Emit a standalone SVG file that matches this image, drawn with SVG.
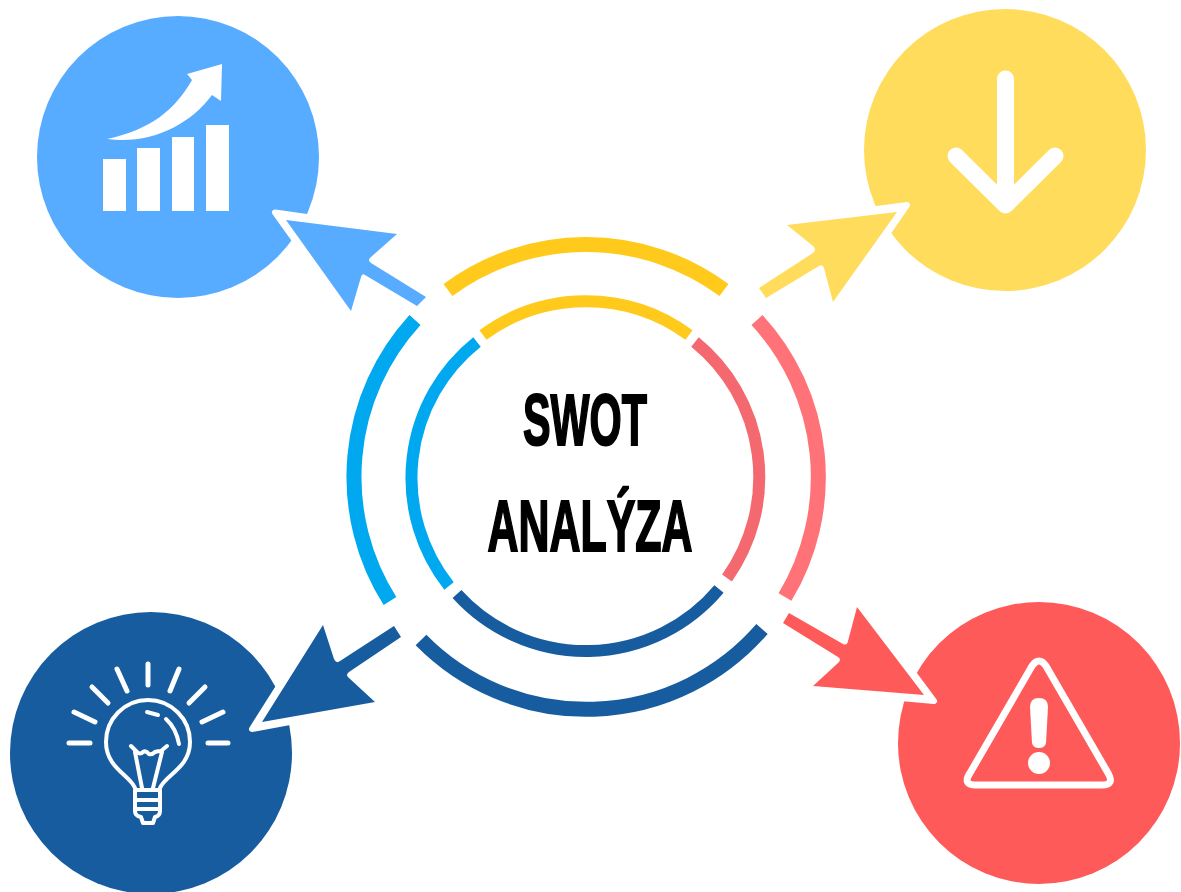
<svg xmlns="http://www.w3.org/2000/svg" width="1181" height="892" viewBox="0 0 1181 892">
<style>
.a{fill:none;stroke-linecap:butt}
.o{stroke-width:15}.i{stroke-width:12}
.w{fill:none;stroke:#fff;stroke-linecap:round;stroke-linejoin:round}
.h{fill:#fff;stroke:#fff;stroke-width:6;stroke-linejoin:round}
text{font-family:"Liberation Sans Narrow","Liberation Sans",Arial,sans-serif;font-weight:700;fill:#000;stroke:#000;stroke-width:2}
</style>
<rect width="1181" height="892" fill="#fff"/>
<g id="opportunities">
<circle cx="178" cy="157" r="141" fill="#57acff"/>
<g fill="#fff"><rect x="103" y="159" width="23" height="52"/><rect x="137" y="148" width="23" height="63"/><rect x="172" y="137" width="22" height="74"/><rect x="206" y="125" width="23" height="86"/><path d="M107 139C150 130 175 110 192 80L187 74L222 64L221 101L212 95C190 125 150 145 107 139Z"/></g>
</g>
<g id="threats">
<circle cx="1005" cy="150" r="141" fill="#ffdc5c"/>
<path class="w" stroke-width="17" d="M1005.500 79V205M956 156L1005.500 205L1055 156"/>
</g>
<g id="strengths">
<circle cx="151" cy="753" r="141" fill="#165c9e"/>
<g class="w" stroke-width="5">
<path d="M69 743H90M208 743H228M74 712L95 722M223 712L202 722M92 687L108 703M205 687L189 703M117 669L127 691M179 669L170 691M148 664V685"/>
</g>
<g class="w" stroke-width="4">
<path d="M135 788C130 775 106 768 106 742A42 42 0 1 1 190 742C190 768 165 775 160 788"/>
<path d="M131 746L137 752Q140 755 143 752Q146 750 149 754Q152 755 155 752Q158 751 161 751L167 746M135 752L142 788M162 752L153 788"/>
<path d="M135 790V811Q135 816 141 817L143 823H153L155 817Q160 816 160 811V790ZM136 800H160M136 809H160"/>
<path d="M147 712L158 715M166 719Q176 728 179 744"/>
</g>
</g>
<g id="weaknesses">
<circle cx="1039" cy="743" r="141" fill="#ff5a5a"/>
<path class="w" stroke-width="7" d="M1032 666Q1039 656 1046 666L1108 773Q1115 785 1102 785H976Q962 785 970 773Z"/>
<path fill="#fff" d="M1030 707Q1030 698 1039 698Q1048 698 1048 707L1046 743Q1045 748 1039 748Q1033 748 1032 743Z"/>
<circle cx="1039" cy="763" r="11" fill="#fff"/>
</g>
<g id="connectors">
<path class="h" d="M275 212.500L398 230L347 313Z"/>
<path class="h" d="M907 205L787 221L838 305Z"/>
<path class="h" d="M934 701L813 690L862 604Z"/>
<path class="h" d="M252 729L376 706L319 623Z"/>
<path fill="#57acff" d="M286 220L397 234L371 257Q367 260 371 263L426 297L417 306L365 275Q362 273 361 277L351 311Z"/>
<path fill="#ffdc5c" d="M897 212L787 225L813 246Q817 250 813 253L759 288L766 298L819 266Q823 264 824 268L833 302Z"/>
<path fill="#ff5a5a" d="M924 695L813 686L838 663Q842 659 838 657L783 623L789 613L843 644Q847 646 848 641L857 607Z"/>
<path fill="#165c9e" d="M262 722L323 625L334 659Q336 664 340 661L394 626L401 637L349 672Q345 675 349 678L375 702Z"/>
</g>
<g id="ring">
<path class="a o" stroke="#ffca1c" d="M448 290A232 232 0 0 1 724 290"/>
<path class="a o" stroke="#ff7378" d="M757 320A232 232 0 0 1 785 597"/>
<path class="a o" stroke="#165c9e" d="M762 629A232 232 0 0 1 421 640"/>
<path class="a o" stroke="#00a8f0" d="M390 601A232 232 0 0 1 415 320"/>
<path class="a i" stroke="#ffca1c" d="M483 335A174 174 0 0 1 689 335"/>
<path class="a i" stroke="#f4696f" d="M695 342A174 174 0 0 1 727 578"/>
<path class="a i" stroke="#165c9e" d="M719 589A174 174 0 0 1 457 594"/>
<path class="a i" stroke="#00a8f0" d="M449 586A174 174 0 0 1 477 342"/>
</g>
<g id="title">
<text x="585" y="445" text-anchor="middle" font-size="72" textLength="124" lengthAdjust="spacingAndGlyphs">SWOT</text>
<text x="590" y="551" text-anchor="middle" font-size="72" textLength="205" lengthAdjust="spacingAndGlyphs">ANALÝZA</text>
</g>
</svg>
